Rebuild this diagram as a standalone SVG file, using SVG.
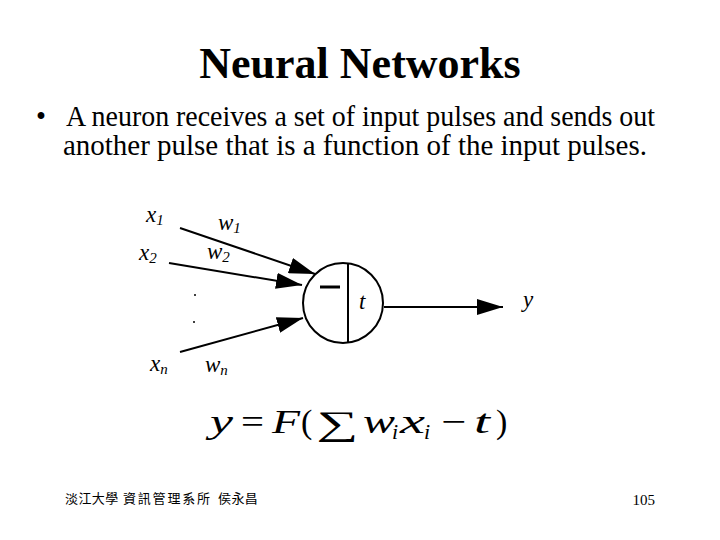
<svg xmlns="http://www.w3.org/2000/svg" width="720" height="540" viewBox="0 0 720 540">
<defs>
<style>
.title{font-family:"Liberation Serif",serif;font-weight:bold;font-size:44px;fill:#000}
.body{font-family:"Liberation Serif",serif;font-size:28.5px;fill:#000}
.lab{font-family:"Liberation Serif",serif;font-style:italic;font-size:23px;fill:#000}
.sub{font-size:15px}
.eq{font-family:"Liberation Serif",serif;font-style:italic;font-size:34px;fill:#000}
.eqs{font-family:"Liberation Serif",serif;font-style:italic;font-size:22px;fill:#000}
.op{font-family:"Liberation Serif",serif;font-size:34px;fill:#000}
.foot{font-family:"Noto Sans CJK TC","Noto Sans CJK SC",sans-serif;font-size:13px;fill:#000}
.pg{font-family:"Liberation Serif",serif;font-size:15px;fill:#000}
.ln{stroke:#000;stroke-width:2;fill:none}
</style>
<marker id="ah" viewBox="0 0 26 16" refX="26" refY="8" markerWidth="26" markerHeight="16" markerUnits="userSpaceOnUse" orient="auto">
<path d="M0,0 L26,8 L0,16 Z" fill="#000"/>
</marker>
</defs>
<rect width="720" height="540" fill="#fff"/>
<text class="title" x="360" y="78" text-anchor="middle">Neural Networks</text>
<text class="body" x="36" y="126">•</text>
<text class="body" x="66" y="126" textLength="589" lengthAdjust="spacingAndGlyphs">A neuron receives a set of input pulses and sends out</text>
<text class="body" x="63" y="155" textLength="584" lengthAdjust="spacingAndGlyphs">another pulse that is a function of the input pulses.</text>
<g id="connectors">
<line class="ln" x1="180" y1="228" x2="315" y2="274" marker-end="url(#ah)"/>
<line class="ln" x1="169" y1="263" x2="302" y2="285" marker-end="url(#ah)"/>
<line class="ln" x1="180" y1="352" x2="303" y2="318" marker-end="url(#ah)"/>
<line class="ln" x1="384" y1="307" x2="503" y2="307" marker-end="url(#ah)"/>
</g>
<g id="neuron">
<circle cx="343" cy="303" r="40" class="ln"/>
<line class="ln" x1="348" y1="263" x2="348" y2="343"/>
<line x1="320" y1="287" x2="340" y2="287" stroke="#000" stroke-width="3"/>
<text class="lab" x="359" y="309">t</text>
</g>
<g id="inputs">
<text class="lab" x="146" y="222">x<tspan class="sub" dy="3">1</tspan></text>
<text class="lab" x="218" y="230">w<tspan class="sub" dy="3">1</tspan></text>
<text class="lab" x="139" y="260">x<tspan class="sub" dy="3">2</tspan></text>
<text class="lab" x="207" y="259">w<tspan class="sub" dy="3">2</tspan></text>
<circle cx="195" cy="295" r="1" fill="#000"/>
<circle cx="194" cy="322" r="1" fill="#000"/>
<text class="lab" x="150" y="371">x<tspan class="sub" dy="3">n</tspan></text>
<text class="lab" x="205" y="372">w<tspan class="sub" dy="3">n</tspan></text>
</g>
<g id="output">
<text class="lab" x="523" y="307">y</text>
</g>
<g id="formula">
<text class="eq" x="210" y="433" textLength="23" lengthAdjust="spacingAndGlyphs">y</text>
<text class="op" x="241" y="433" textLength="23" lengthAdjust="spacingAndGlyphs">=</text>
<text class="eq" x="272" y="433" textLength="28" lengthAdjust="spacingAndGlyphs">F</text>
<text class="op" x="301" y="433">(</text>
<text class="op" x="316" y="435" font-size="70" textLength="42" lengthAdjust="spacingAndGlyphs">∑</text>
<text class="eq" x="363" y="433" textLength="32" lengthAdjust="spacingAndGlyphs">w</text>
<text class="eqs" x="392" y="439">i</text>
<text class="eq" x="400" y="433" textLength="25" lengthAdjust="spacingAndGlyphs">x</text>
<text class="eqs" x="424" y="439">i</text>
<text class="op" x="441" y="433" textLength="25" lengthAdjust="spacingAndGlyphs">−</text>
<text class="eq" x="474" y="433" textLength="16" lengthAdjust="spacingAndGlyphs">t</text>
<text class="op" x="496" y="433">)</text>
</g>
<g id="footer">
<text class="foot" x="65" y="503" letter-spacing="0.4">淡江大學</text>
<text class="foot" x="123" y="503" letter-spacing="1.8">資訊管理系所</text>
<text class="foot" x="218" y="503" letter-spacing="0.4">侯永昌</text>
<text class="pg" x="655" y="505" text-anchor="end">105</text>
</g>
</svg>
